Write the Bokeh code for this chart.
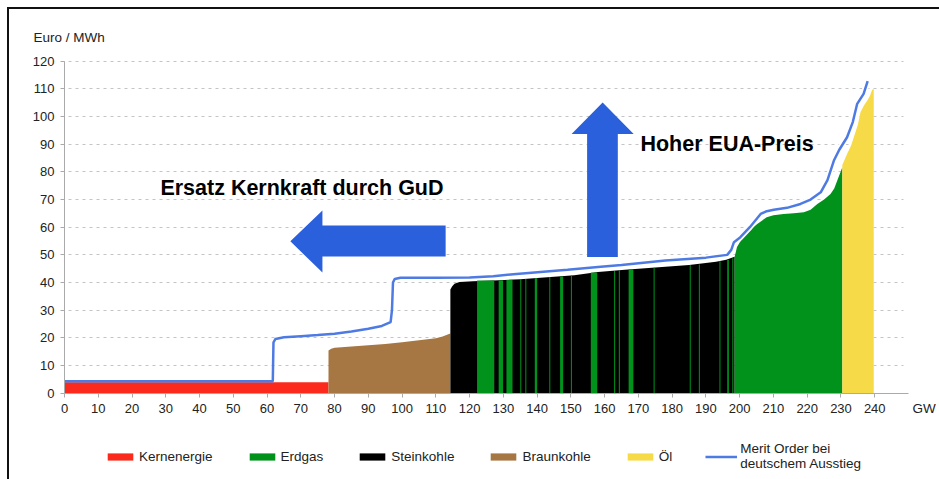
from bokeh.plotting import figure
from bokeh.models import Range1d, FixedTicker, Label, Legend, LegendItem, LinearAxis, Grid
from bokeh.embed import file_html
from bokeh.resources import INLINE

FONT = "Liberation Sans"

# ---------------- data ----------------
x_ticks = list(range(0, 241, 10))
y_ticks = list(range(0, 121, 10))

# Kernenergie (GW cumulative, Euro/MWh)
nuclear_x = [0, 78.2]
nuclear_y = [4.0, 4.0]

# Braunkohle
lignite_x = [78.2, 79, 80, 85, 90, 95, 100, 105, 110, 112, 113.5, 114.3]
lignite_y = [15.4, 16.1, 16.4, 16.9, 17.3, 17.8, 18.4, 19.1, 19.9, 20.5, 21.2, 21.6]

# Steinkohle (upper edge of the coal block)
coal_x = [114.3, 114.8, 115.5, 117, 121, 127, 135, 141, 151, 158, 166, 176, 185, 193, 196, 198.5]
coal_y = [37.5, 38.6, 39.6, 40.2, 40.5, 40.7, 41.2, 41.7, 42.6, 43.8, 44.6, 45.5, 46.3, 47.5, 48.2, 49.3]

# Erdgas block after the coal
gas_x = [198.5, 199.2, 200, 201.2, 203, 205.2, 208, 210, 213, 216, 219, 221, 223, 225, 226.9, 228, 228.9, 230.4]
gas_y = [49.3, 52.8, 54.5, 56.4, 59.0, 61.2, 63.6, 64.3, 64.8, 65.0, 65.4, 66.3, 68.4, 70.0, 72.0, 74.0, 76.9, 81.7]

# Erdgas units inside the coal block
gas_stripe_left = [122.2, 128.6, 130.9, 135.0, 136.5, 139.3, 143.6, 146.8, 150.0, 155.9,
                   162.8, 164.2, 167.1, 174.5, 185.2, 187.9, 194.0, 196.3, 197.8]
gas_stripe_right = [127.3, 129.9, 132.7, 135.3, 136.8, 140.0, 143.9, 147.7, 150.3, 157.8,
                    163.1, 164.5, 168.5, 174.8, 185.5, 188.2, 194.3, 196.8, 198.1]
gas_stripe_top = [40.7, 40.8, 40.9, 41.2, 41.3, 41.6, 42.0, 42.2, 42.5, 43.6,
                  44.2, 44.4, 44.7, 45.3, 46.3, 46.5, 47.7, 48.2, 48.8]

# Öl
oil_x = [230.4, 231.8, 233, 233.8, 235, 235.8, 236.8, 237.8, 238.6, 239.2, 239.7]
oil_y = [82.5, 86.5, 89.5, 92.5, 97.0, 101.6, 104.0, 105.8, 107.5, 109.6, 110.0]

# Merit Order bei deutschem Ausstieg
merit_x = [0, 61.7, 61.9, 62.5, 65, 70, 75, 80, 85, 90, 94, 96.6, 97.0, 97.3, 97.8, 99.5,
           110, 120, 127, 133, 141, 149, 158, 165, 178, 190, 196.3, 197.5, 198.3, 200.2,
           203, 206.2, 208, 210.1, 214, 218, 221, 224, 226, 227.9, 229.5, 231.8, 233.5,
           234.8, 236.7, 237.9]
merit_y = [4.3, 4.3, 18.4, 19.6, 20.2, 20.6, 21.0, 21.5, 22.3, 23.3, 24.3, 25.7, 30.0, 40.0, 41.3, 41.7,
           41.7, 41.8, 42.3, 43.0, 43.8, 44.6, 45.6, 46.3, 48.0, 49.0, 50.0, 51.8, 54.6, 56.4,
           60.0, 64.8, 65.8, 66.3, 67.0, 68.4, 70.0, 72.6, 77.0, 84.1, 88.0, 92.5, 98.0,
           104.6, 108.2, 112.8]

# annotation arrows (data coordinates)
left_arrow_x = [66.9, 76.4, 76.4, 112.9, 112.9, 76.4, 76.4]
left_arrow_y = [54.9, 66.0, 60.6, 60.6, 49.4, 49.4, 43.6]
up_arrow_x = [159.4, 168.6, 163.9, 163.9, 154.8, 154.8, 150.2]
up_arrow_y = [105.1, 93.7, 93.7, 49.2, 49.2, 93.7, 93.7]

# ---------------- layout constants ----------------
W, H = 939, 479
X0_PX, X_PER_GW = 64.0, 844.0 / 250.0      # canvas x of 0 GW, pixels per GW
Y0_PX, Y_PER_EUR = 392.7, 332.0 / 120.0    # canvas y of 0 Euro, pixels per Euro

# ---------------- colours ----------------
C_RED = "#fb2a1c"
C_GREEN = "#01921b"
C_BLACK = "#000000"
C_BROWN = "#a67742"
C_YELLOW = "#f6da47"
C_BLUE = "#3f6fe2"
C_ARROW = "#2b60dd"

p = figure(width=W, height=H, output_backend="svg", toolbar_location=None, title=None,
           x_axis_location=None, y_axis_location=None,
           x_range=Range1d(-X0_PX / X_PER_GW, (W - X0_PX) / X_PER_GW),
           y_range=Range1d(-(H - Y0_PX) / Y_PER_EUR, Y0_PX / Y_PER_EUR),
           min_border=0, min_border_left=0, min_border_right=0,
           min_border_top=0, min_border_bottom=0)
p.styles = {
    "background-color": "white",
    "background-image": "linear-gradient(#111111, #111111), linear-gradient(#111111, #111111)",
    "background-size": "2px 100%, 100% 2px",
    "background-position": "7px 7px, 7px 7px",
    "background-repeat": "no-repeat",
}
p.outline_line_color = None
p.background_fill_alpha = 0
p.border_fill_alpha = 0
p.xgrid.visible = False
p.ygrid.visible = False

# axes drawn at the data origin
xaxis = LinearAxis(fixed_location=0, bounds=(0, 250), ticker=FixedTicker(ticks=x_ticks))
yaxis = LinearAxis(fixed_location=0, bounds=(0, 120), ticker=FixedTicker(ticks=y_ticks))
for ax in (xaxis, yaxis):
    ax.axis_line_color = "#aaaaaa"
    ax.major_tick_line_color = "#aaaaaa"
    ax.minor_tick_line_color = None
    ax.major_tick_in = 0
    ax.major_tick_out = 4
    ax.major_label_text_font = FONT
    ax.major_label_text_font_size = "13px"
    ax.major_label_text_color = "#222222"
xaxis.major_label_standoff = 7
yaxis.major_label_standoff = 6
p.add_layout(xaxis, "below")
p.add_layout(yaxis, "left")

grid = Grid(dimension=1, ticker=FixedTicker(ticks=y_ticks[1:]), cross_bounds=(-0.9, 248.5),
            grid_line_color="#c4c4c4", grid_line_dash="3 4", grid_line_width=1)
p.add_layout(grid)

# areas
r_nuc = p.varea(x=nuclear_x, y1=0, y2=nuclear_y, fill_color=C_RED)
r_lig = p.varea(x=lignite_x, y1=0, y2=lignite_y, fill_color=C_BROWN)
r_coal = p.varea(x=coal_x, y1=0, y2=coal_y, fill_color=C_BLACK)
r_gas_s = p.quad(left=gas_stripe_left, right=gas_stripe_right, top=gas_stripe_top, bottom=0,
                 fill_color=C_GREEN, line_color=None)
r_gas = p.varea(x=gas_x, y1=0, y2=gas_y, fill_color=C_GREEN)
r_oil = p.varea(x=oil_x, y1=0, y2=oil_y, fill_color=C_YELLOW)

# merit order line with white halo
p.line(x=merit_x[12:], y=merit_y[12:], line_color="white", line_width=6)
r_merit = p.line(x=merit_x, y=merit_y, line_color=C_BLUE, line_width=2.5, line_alpha=0.92)

# arrows
p.patch(x=left_arrow_x, y=left_arrow_y, fill_color=C_ARROW, line_color=None)
p.patch(x=up_arrow_x, y=up_arrow_y, fill_color=C_ARROW, line_color=None)

# texts
p.add_layout(Label(x=28.4, y=74.3, text="Ersatz Kernkraft durch GuD", text_font=FONT,
                   text_font_size="21.5px", text_font_style="bold", text_color="#000000",
                   text_baseline="middle", text_align="left"))
p.add_layout(Label(x=170.6, y=90.2, text="Hoher EUA-Preis", text_font=FONT,
                   text_font_size="21.5px", text_font_style="bold", text_color="#000000",
                   text_baseline="middle", text_align="left"))
p.add_layout(Label(x=-9.2, y=128.6, text="Euro / MWh", text_font=FONT,
                   text_font_size="13.5px", text_color="#222222",
                   text_baseline="middle", text_align="left"))
p.add_layout(Label(x=251.2, y=-5.4, text="GW", text_font=FONT,
                   text_font_size="13.5px", text_color="#222222",
                   text_baseline="middle", text_align="left"))

legend = Legend(items=[
    LegendItem(label="Kernenergie", renderers=[r_nuc]),
    LegendItem(label="Erdgas", renderers=[r_gas]),
    LegendItem(label="Steinkohle", renderers=[r_coal]),
    LegendItem(label="Braunkohle", renderers=[r_lig]),
    LegendItem(label="Öl", renderers=[r_oil]),
    LegendItem(label="Merit Order bei\ndeutschem Ausstieg", renderers=[r_merit]),
], orientation="horizontal", location=(104, 8))
legend.spacing = 33
legend.glyph_width = 32
legend.glyph_height = 9
legend.label_standoff = 3
legend.label_height = 14
legend.label_width = 10
legend.label_text_font = FONT
legend.label_text_font_size = "13.5px"
legend.label_text_color = "#222222"
legend.padding = 0
legend.margin = 0
legend.background_fill_alpha = 0
legend.border_line_alpha = 0
p.add_layout(legend)

open("out.html", "w").write(file_html(p, INLINE))
